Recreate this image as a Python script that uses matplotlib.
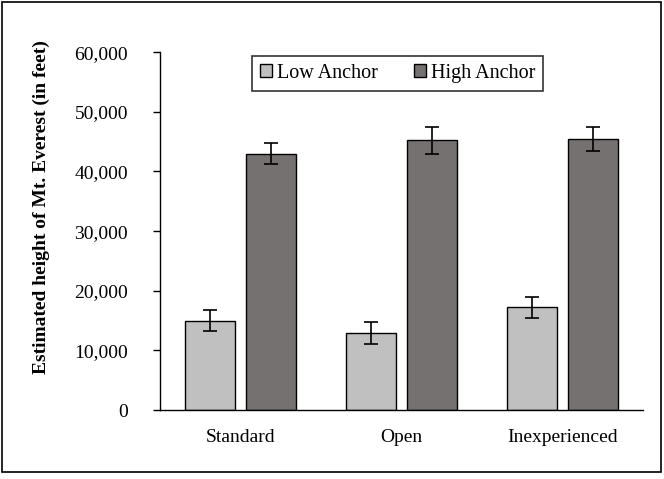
import matplotlib.pyplot as plt
import numpy as np
from matplotlib.patches import Rectangle
from matplotlib.ticker import FuncFormatter

plt.rcParams["font.family"] = ["Liberation Serif", "DejaVu Serif"]

# ── data ──
groups = ["Standard", "Open", "Inexperienced"]
low_mean = [15000, 12900, 17200]
low_err = [1800, 1900, 1800]
high_mean = [43000, 45200, 45500]
high_err = [1700, 2200, 2000]

LOW_COL = "#c0c0c0"
HIGH_COL = "#767171"

fig = plt.figure(figsize=(6.64, 4.79), dpi=100)
ax = fig.add_axes([0.241, 0.144, 0.727, 0.747])

x = np.arange(len(groups))
w = 0.31
off = 0.19
ekw = dict(elinewidth=1.2, capthick=1.2, ecolor="black")
ax.bar(x - off, low_mean, w, yerr=low_err, capsize=5, color=LOW_COL,
       edgecolor="black", linewidth=1.0, label="Low Anchor", error_kw=ekw)
ax.bar(x + off, high_mean, w, yerr=high_err, capsize=5, color=HIGH_COL,
       edgecolor="black", linewidth=1.0, label="High Anchor", error_kw=ekw)

ax.set_xlim(-0.5, 2.5)
ax.set_ylim(0, 60000)
ax.set_yticks(np.arange(0, 60001, 10000))
ax.yaxis.set_major_formatter(FuncFormatter(lambda v, p: f"{int(v):,}"))
ax.set_xticks(x)
ax.set_xticklabels(groups)
ax.tick_params(axis="x", length=0, pad=14, labelsize=14)
ax.tick_params(axis="y", direction="out", length=5, width=1.0, pad=18,
               labelsize=14)
for s in ["top", "right"]:
    ax.spines[s].set_visible(False)
for s in ["left", "bottom"]:
    ax.spines[s].set_linewidth(1.0)

ax.set_ylabel("Estimated height of Mt. Everest (in feet)", fontsize=14,
              fontweight="bold")
ax.yaxis.set_label_coords(-0.228, 0.567)

leg = ax.legend(loc="upper center", bbox_to_anchor=(0.492, 0.99), ncol=2,
                prop={"family": "Liberation Serif", "size": 14.5},
                frameon=True, fancybox=False, edgecolor="black",
                handlelength=0.6, handleheight=0.6, handletextpad=0.25,
                columnspacing=1.8, borderpad=0.4, borderaxespad=0.0)
leg.get_frame().set_linewidth(1.2)

fig.patches.append(Rectangle((2 / 664, 1 - 472 / 479), 659 / 664, 470 / 479,
                             transform=fig.transFigure, fill=False,
                             edgecolor="black", linewidth=1.2))

fig.savefig("out.png", dpi=100)
